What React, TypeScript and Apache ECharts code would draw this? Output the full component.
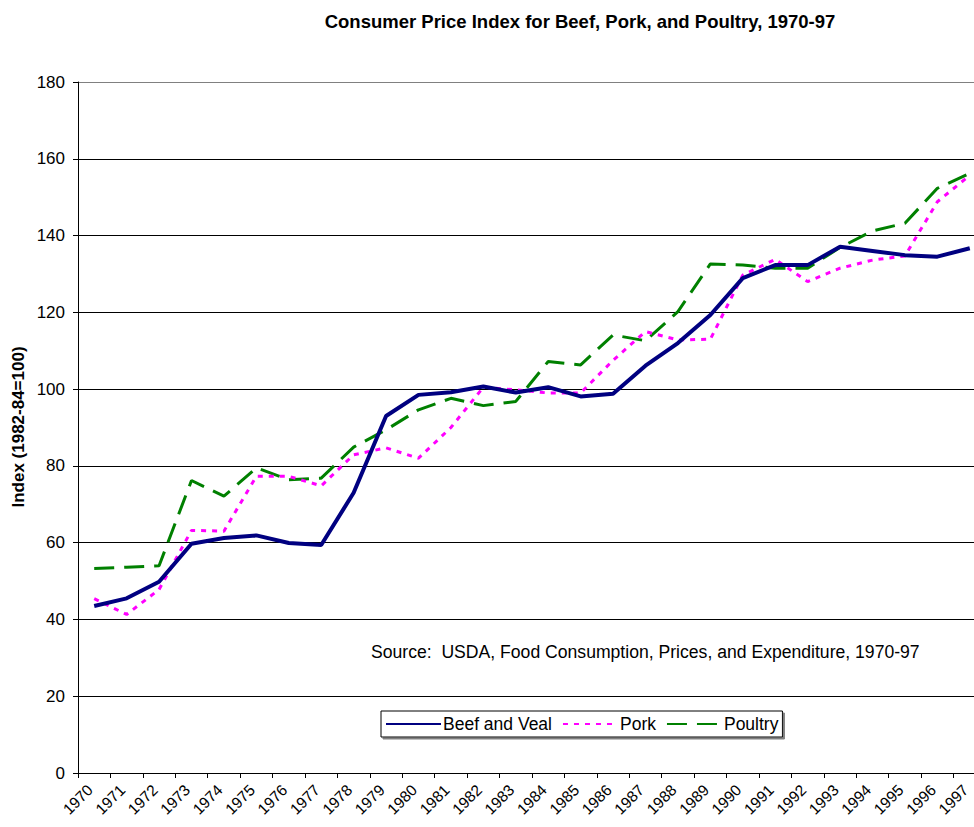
import React, { useEffect, useRef } from "react";
import * as echarts from "echarts";

const years = [
  "1970", "1971", "1972", "1973", "1974", "1975", "1976", "1977", "1978", "1979",
  "1980", "1981", "1982", "1983", "1984", "1985", "1986", "1987", "1988", "1989",
  "1990", "1991", "1992", "1993", "1994", "1995", "1996", "1997",
];

const beefAndVeal = [
  43.5, 45.5, 49.8, 59.7, 61.2, 61.9, 59.9, 59.4, 73.0, 93.0,
  98.5, 99.2, 100.7, 99.1, 100.5, 98.1, 98.8, 106.1, 112.0, 119.3,
  128.9, 132.3, 132.3, 137.1, 136.0, 134.9, 134.5, 136.7,
];

const pork = [
  45.4, 41.3, 47.8, 63.2, 63.0, 77.3, 77.3, 74.8, 82.9, 84.7,
  82.0, 90.0, 100.5, 99.8, 99.0, 99.0, 107.5, 115.0, 112.8, 113.0,
  129.7, 133.8, 128.0, 131.5, 133.6, 134.7, 148.8, 155.7,
];

const poultry = [
  53.3, 53.6, 54.0, 76.2, 72.1, 79.5, 76.4, 76.8, 84.9, 89.4,
  94.6, 97.6, 95.7, 96.8, 107.2, 106.3, 114.1, 112.6, 120.2, 132.6,
  132.3, 131.5, 131.5, 136.9, 141.2, 143.2, 152.3, 156.2,
];

const seriesNames = ["Beef and Veal", "Pork", "Poultry"];
const titleText = "Consumer Price Index for Beef, Pork, and Poultry, 1970-97";
const yAxisTitle = "Index (1982-84=100)";
const sourceText = "Source:  USDA, Food Consumption, Prices, and Expenditure, 1970-97";

const FONT = "Liberation Sans, Arial, sans-serif";

export default function App() {
  const ref = useRef<HTMLDivElement>(null);

  useEffect(() => {
    document.body.style.margin = "0";
    if (!ref.current) return;
    const chart = echarts.init(ref.current, null, { renderer: "svg" });
    chart.setOption({
      animation: false,
      backgroundColor: "#fff",
      title: {
        text: titleText,
        left: 575,
        top: 7,
        textAlign: "center",
        textStyle: { fontFamily: FONT, fontSize: 18.5, fontWeight: "bold", color: "#000" },
      },
      grid: {
        left: 78,
        top: 82,
        right: -12,
        bottom: 54,
        containLabel: false,
        outerBoundsMode: "none",
      },
      legend: {
        data: seriesNames,
        left: 381,
        top: 711,
        orient: "horizontal",
        itemWidth: 55,
        itemHeight: 14,
        itemGap: 10,
        padding: [4, 4, 4, 4],
        borderColor: "#000",
        borderWidth: 1,
        backgroundColor: "#fff",
        shadowColor: "#808080",
        shadowOffsetX: 2,
        shadowOffsetY: 2,
        shadowBlur: 0,
        itemStyle: { opacity: 0 },
        textStyle: { fontFamily: FONT, fontSize: 17.5, color: "#000", padding: [0, 0, 0, -3] },
      },
      xAxis: {
        type: "category",
        data: years,
        boundaryGap: true,
        axisLine: { lineStyle: { color: "#000", width: 1 } },
        axisTick: { show: true, length: 5, lineStyle: { color: "#000" } },
        axisLabel: {
          interval: 0,
          rotate: 45,
          margin: 10,
          align: "right",
          verticalAlign: "middle",
          padding: [0, 6, 0, 0],
          hideOverlap: false,
          fontFamily: FONT,
          fontSize: 15.5,
          color: "#000",
        },
      },
      yAxis: {
        type: "value",
        min: 0,
        max: 180,
        interval: 20,
        axisLine: { show: true, lineStyle: { color: "#000", width: 1 } },
        axisTick: { show: true, length: 5, lineStyle: { color: "#000" } },
        axisLabel: { margin: 13, fontFamily: FONT, fontSize: 17, color: "#000" },
        splitLine: {
          show: true,
          lineStyle: {
            color: ["#000", "#000", "#000", "#000", "#000", "#000", "#000", "#000", "#000", "#808080"],
            width: 1,
          },
        },
      },
      graphic: [
        {
          type: "text",
          x: 18,
          y: 427,
          rotation: Math.PI / 2,
          style: {
            text: yAxisTitle,
            fontFamily: FONT,
            fontSize: 17,
            fontWeight: "bold",
            fill: "#000",
            textAlign: "center",
            textVerticalAlign: "middle",
          },
        },
        {
          type: "text",
          left: 371,
          top: 643,
          style: {
            text: sourceText,
            fontFamily: FONT,
            fontSize: 17.6,
            fill: "#000",
          },
        },
      ],
      series: [
        {
          name: seriesNames[0],
          type: "line",
          data: beefAndVeal,
          symbol: "none",
          lineStyle: { color: "#000080", width: 4, type: "solid" },
          itemStyle: { color: "#000080" },
          z: 4,
        },
        {
          name: seriesNames[1],
          type: "line",
          data: pork,
          symbol: "none",
          lineStyle: { color: "#FF00FF", width: 3, type: [5, 6] },
          itemStyle: { color: "#FF00FF" },
          z: 3,
        },
        {
          name: seriesNames[2],
          type: "line",
          data: poultry,
          symbol: "none",
          lineStyle: { color: "#008000", width: 3, type: [20, 10] },
          itemStyle: { color: "#008000" },
          z: 2,
        },
      ],
    });
    return () => chart.dispose();
  }, []);

  return <div ref={ref} style={{ width: 974, height: 827, overflow: "hidden" }} />;
}
